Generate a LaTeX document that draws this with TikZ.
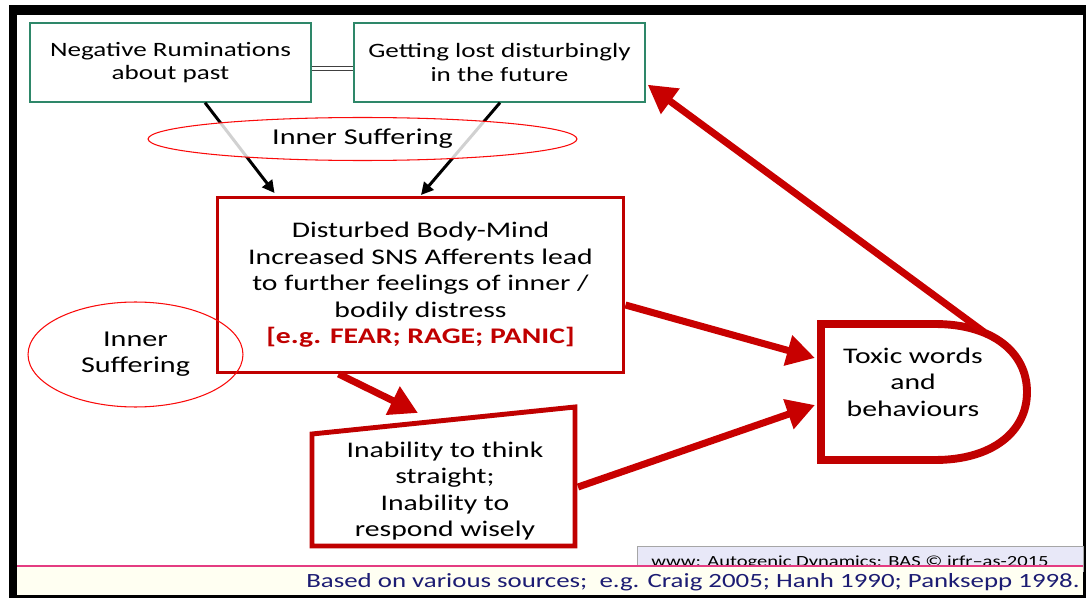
\documentclass[tikz,border=0pt]{standalone}
\usepackage{fontspec}
\setmainfont{Carlito}[FakeStretch=1.33]
\usetikzlibrary{arrows.meta,positioning,calc,shapes.geometric}
\definecolor{boxgreen}{RGB}{46,135,105}
\definecolor{deepred}{RGB}{192,0,0}
\definecolor{arrred}{RGB}{200,0,0}
\definecolor{brightred}{RGB}{250,10,10}
\definecolor{navy}{RGB}{28,28,115}
\definecolor{lavend}{RGB}{232,232,248}
\definecolor{cream}{RGB}{255,255,242}
\definecolor{pinkline}{RGB}{228,60,130}
\newcommand{\fsz}[2]{\fontsize{#1}{#2}\selectfont}
\tikzset{
  gbox/.style={draw=boxgreen, line width=0.8pt, fill=white, inner sep=0pt,
               minimum height=1.58cm, align=center, font=\fsz{11.6}{13.3}},
  rbox/.style={draw=deepred, line width=1.7pt, inner sep=0pt, align=center,
               font=\fsz{12.7}{15.1}},
  suf/.style={ellipse, draw=brightred, line width=0.6pt, inner sep=0pt,
              align=center, font=\fsz{12.9}{14.8}},
  lbl/.style={align=center, inner sep=0pt, font=\fsz{12.7}{15.1}},
  shp/.style={draw=deepred, line join=miter},
  blkarr/.style={-{Triangle[length=7pt, width=7pt]}, black, line width=1.7pt},
  rarr/.style={-{Triangle[length=16pt, width=17pt]}, arrred, line width=4pt},
  pair/.style={draw=black!75, double=white, double distance=2.2pt, line width=0.6pt},
}

\begin{document}
\begin{tikzpicture}[x=0.02cm, y=-0.02cm]
    \useasboundingbox (0,0) rectangle (1086,598);
    \fill[black] (9,5) rectangle (1086,598);
    \fill[white] (17,15) rectangle (1083,595);

    \node[gbox, minimum width=5.62cm] (neg) at (170.5,62.5) {Negative Ruminations\\about past};
    \node[gbox, minimum width=5.82cm] (fut) at (499.5,62.5) {Getting lost disturbingly\\in the future};
    \draw[pair] ($(neg.east)+(0,6)$) -- ($(fut.west)+(0,6)$);

    \node[rbox, minimum width=8.14cm, minimum height=3.5cm] (dist) at (420.5,285)
      {Disturbed Body-Mind\\Increased SNS Afferents lead\\to further feelings of inner /\\bodily distress\\
       {\bfseries\color{deepred}[e.g. FEAR; RAGE; PANIC]}};

    \draw[blkarr] ($(neg.south)+(34.5,0)$) -- ($(dist.north west)+(59,-3)$);
    \draw[blkarr] ($(fut.south)+(0.5,0)$) -- ($(dist.north)+(0.5,-1)$);

    \node[suf, fill=white, fill opacity=0.82, text opacity=1, minimum width=8.58cm, minimum height=0.86cm]
      (suff) at (362.5,139) {Inner Suffering};
    \node[suf, minimum width=4.3cm, minimum height=2.1cm] (suffl) at (135.5,354.5) {Inner\\Suffering};

    % inability box
    \draw[shp, line width=2.8pt] (312,434) -- (575,407) -- (575,546) -- (312,546) -- cycle;
    \node[lbl] (unable) at (445,491) {Inability to think\\straight;\\Inability to\\respond wisely};
    \coordinate (unin) at (418,413);
    \coordinate (unout) at (578,487);

    % toxic words box
    \draw[shp, line width=4.5pt] (821,324) -- (935,324)
      .. controls (992,324) and (1027,352) .. (1027,392)
      .. controls (1027,432) and (992,460) .. (935,460) -- (821,460) -- cycle;
    \node[lbl] (toxic) at (913,382) {Toxic words\\and\\behaviours};
    \coordinate (toxin1) at (815,358);
    \coordinate (toxin2) at (815,405);
    \coordinate (toxout) at (984,332);

    \draw[rarr] ($(dist.east)+(0,20)$) -- (toxin1);
    \draw[rarr] (unout) -- (toxin2);
    \draw[rarr] ($(dist.south west)+(123,0)$) -- (unin);
    \draw[rarr] (toxout) -- ($(fut.south east)+(2,-18)$);

    % footer
    \node[draw=black!35, fill=lavend, minimum width=8.92cm, minimum height=0.5cm, inner sep=0pt,
          anchor=north west] (credit) at (637,546) {};
    \node[anchor=base, inner sep=0pt, font=\fsz{8.8}{10}] (credtxt) at (850,566)
      {www: Autogenic Dynamics: BAS © irfr–as-2015};
    \fill[cream] (17,566) rectangle (1083,595);
    \draw[pinkline, line width=0.8pt] (17,566) -- (1083,566);
    \node[anchor=base east, inner sep=0pt, text=navy, font=\fsz{11.5}{13}] (src) at (1080,587)
      {Based on various sources;\ \ e.g. Craig 2005; Hanh 1990; Panksepp 1998.};
  \end{tikzpicture}
\end{document}
